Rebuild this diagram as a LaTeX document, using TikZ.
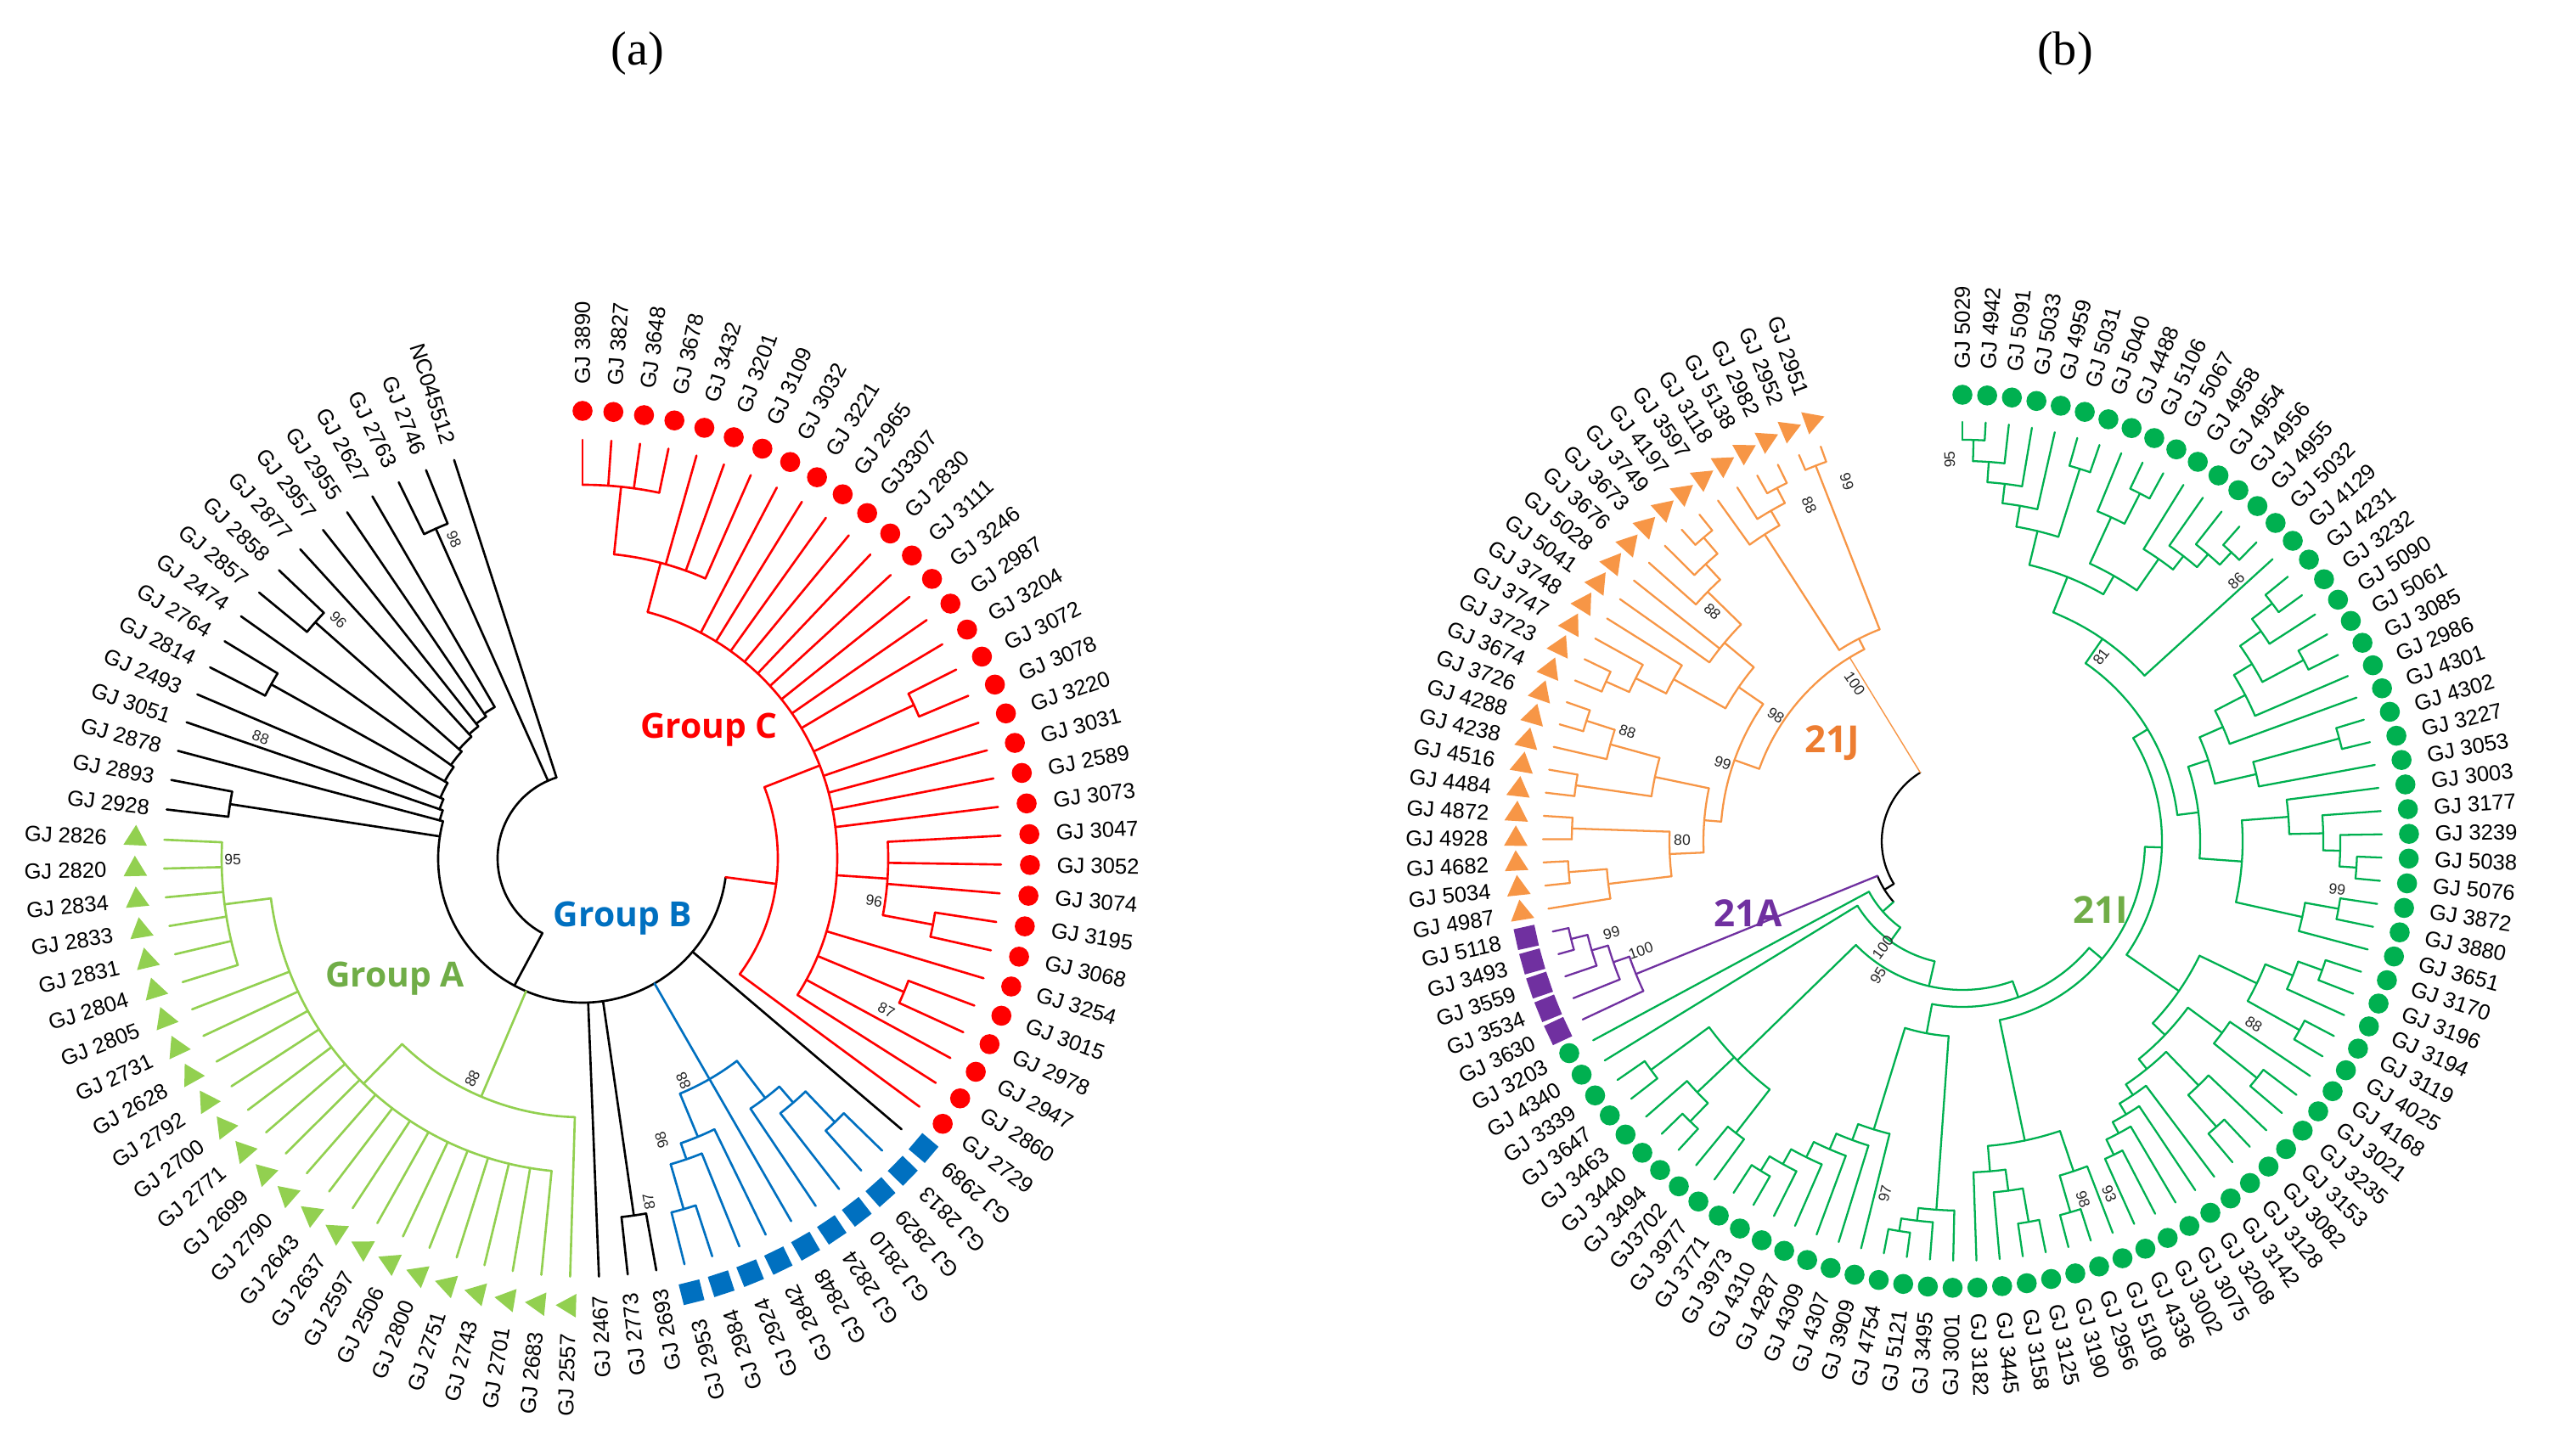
\documentclass[tikz,border=0pt]{standalone}
\usepackage{fontspec}
\setmainfont{Liberation Serif}
\newfontfamily\labfont{Liberation Sans}
\newfontfamily\grpfont{Open Sans}
\usetikzlibrary{shapes.geometric}
\definecolor{cRed}{HTML}{FF0000}
\definecolor{cBlue}{HTML}{0070C0}
\definecolor{cLG}{HTML}{92D050}
\definecolor{cLGt}{HTML}{70AD47}
\definecolor{cG}{HTML}{00B050}
\definecolor{cOr}{HTML}{F79646}
\definecolor{cOrt}{HTML}{ED7D31}
\definecolor{cPu}{HTML}{7030A0}
\tikzset{
  lbl/.style={font=\labfont\fontsize{7.3}{8}\selectfont,inner sep=0pt,text=black},
  bs/.style={font=\labfont\fontsize{5}{6}\selectfont,inner sep=0pt,text=black!85},
  grp/.style={font=\grpfont\bfseries\fontsize{11.6}{13}\selectfont,inner sep=0pt},
  grpb/.style={font=\grpfont\bfseries\fontsize{12.5}{14}\selectfont,inner sep=0pt}
}
\newcommand\Ar[3]{\draw ({ang(#2)}:#1) arc[start angle={ang(#2)},end angle={ang(#3)},radius=#1cm];}
\newcommand\St[3]{\draw ({ang(#1)}:#2) -- ({ang(#1)}:#3);}
\newcommand\Lf[2]{\draw ({ang(#1)}:#2) -- ({ang(#1)}:\tipr);}
\newcommand\Nd[5]{\Ar{#1}{#2}{#3}\St{#4}{#5}{#1}}
\newcommand\Pair[4]{\Ar{#1}{#2}{#3}\Lf{#2}{#1}\Lf{#3}{#1}\St{(#2+#3)/2}{#4}{#1}}
\newcommand\Circ[2]{\fill[#2] ({ang(#1)}:\mkr) circle[radius=0.118cm];}
\newcommand\Tri[2]{\pgfmathsetmacro\tA{ang(#1)}\node[regular polygon,regular polygon sides=3,fill=#2,draw=none,inner sep=0pt,minimum size=0.32cm,rotate=\tA-180] at (\tA:\mkr) {};}
\newcommand\Sq[2]{\pgfmathsetmacro\tA{ang(#1)}\node[fill=#2,draw=none,inner sep=0pt,minimum size=0.25cm,rotate=\tA] at (\tA:\mkr) {};}
\newcommand\LL[3]{\pgfmathsetmacro\tA{ang(#1)}\pgfmathtruncatemacro\flipQ{\tA<\thr}%
  \ifnum\flipQ=1 \node[lbl,anchor=east,rotate=\tA+180] at (\tA:#3) {#2};%
  \else \node[lbl,anchor=west,rotate=\tA] at (\tA:#3) {#2};\fi}
\newcommand\BS[3]{\pgfmathsetmacro\tA{ang(#1)}\pgfmathtruncatemacro\flipQ{\tA<\thr}%
  \ifnum\flipQ=1 \node[bs,rotate=\tA+180] at (\tA:#2) {#3};%
  \else \node[bs,rotate=\tA] at (\tA:#2) {#3};\fi}
\begin{document}
\begin{tikzpicture}
\useasboundingbox (0,0) rectangle (30.03,17.14);
\fill[white] (0,0) rectangle (30.03,17.14);
\node[font=\fontsize{16}{19}\selectfont] (ta) at (7.51,16.51) {(a)};
\node[font=\fontsize{16}{19}\selectfont] (tb) at (24.32,16.51) {(b)};

%================ TREE A =================
\begin{scope}[shift={(6.86,7.03)},declare function={ang(\i)=(\i<69.5)*(90-3.95*\i)+(\i>=69.5)*(-186.7-4.09*(\i-70));}]
\def\tipr{4.93}\def\mkr{5.27}\def\thr{-37.5}
\begin{scope}[line width=0.75pt,line cap=round]
 \begin{scope}[black]
  \Ar{1.00}{86}{52.7}
  \Lf{86}{1.00}
  \Pair{4.25}{84}{85}{1.00}
  \St{52.7}{1.00}{1.70}
  \Ar{1.70}{70.5}{24.7}
  \Ar{1.70}{70.5}{72}\St{72}{1.70}{1.74}
  \Ar{1.74}{72}{73}\St{73}{1.74}{1.78}
  \Ar{1.78}{73}{74}\St{74}{1.78}{1.82}
  \Ar{1.82}{74}{75.5}\St{75.5}{1.82}{1.86}
  \Ar{1.86}{75.5}{77}\St{77}{1.86}{1.90}
  \Ar{1.90}{77}{78.5}\St{78.5}{1.90}{1.94}
  \Ar{1.94}{78.5}{80}\St{80}{1.94}{1.98}
  \Ar{1.98}{80}{81}\St{81}{1.98}{2.02}
  \Ar{2.02}{81}{82}\St{82}{2.02}{2.06}
  \Ar{2.06}{82}{83}\St{83}{2.06}{2.10}
  \Pair{4.2}{70}{71}{1.70}
  \Lf{72}{1.74}\Lf{73}{1.78}\Lf{74}{1.82}
  \Pair{4.2}{75}{76}{1.86}
  \Lf{77}{1.90}
  \Pair{4.2}{78}{79}{1.94}
  \Lf{80}{1.98}\Lf{81}{2.02}\Lf{82}{2.06}\Lf{83}{2.10}
  \Lf{45}{1.70}
  \Pair{4.25}{43}{44}{1.70}
  \Lf{33}{1.70}
 \end{scope}
 \begin{scope}[cLG]
  \Nd{3.05}{56.75}{46}{51.4}{1.70}
  \Lf{46}{3.05}
  \Nd{3.70}{66.5}{47}{56.75}{3.05}
  \foreach \k in {47,...,63}{\Lf{\k}{3.70}}
  \Nd{4.25}{64}{69}{66.5}{3.70}
  \foreach \k in {64,...,69}{\Lf{\k}{4.25}}
 \end{scope}
 \begin{scope}[cBlue]
  \Nd{3.0}{39.875}{36.125}{38}{1.70}\Lf{38}{3.0}
  \Nd{3.55}{39}{40.75}{39.875}{3.0}\Lf{39}{3.55}
  \Nd{3.75}{40}{41.5}{40.75}{3.55}\Lf{40}{3.75}
  \Pair{4.3}{41}{42}{3.75}
  \Nd{3.55}{37}{35.25}{36.125}{3.0}\Lf{37}{3.55}
  \Nd{3.8}{36}{34.5}{35.25}{3.55}\Lf{36}{3.8}
  \Pair{4.3}{34}{35}{3.8}
 \end{scope}
 \begin{scope}[cRed]
  \Nd{2.30}{17.375}{32}{24.69}{1.70}\Lf{32}{2.30}
  \Nd{3.0}{3.75}{31}{17.375}{2.30}
  \Nd{3.6}{1.5}{6}{3.75}{3.0}\Lf{4}{3.6}\Lf{5}{3.6}\Lf{6}{3.6}
  \Nd{4.40}{0}{3}{1.5}{3.6}
  \foreach \k in {0,1,2,3}{\Lf{\k}{4.40}}
  \foreach \k in {7,8,9,10,11,12,13,14,15,18,19,20,21,27,30,31}{\Lf{\k}{3.0}}
  \Pair{4.3}{16}{17}{3.0}
  \Nd{3.6}{22}{25.5}{23.75}{3.0}\Lf{22}{3.6}\Lf{23}{3.6}\Lf{24}{3.6}
  \Pair{4.2}{25}{26}{3.6}
  \Pair{4.1}{28}{29}{3.0}
 \end{scope}
\end{scope}
% markers and labels
\foreach \i/\n in {0/GJ 3890,1/GJ 3827,2/GJ 3648,3/GJ 3678,4/GJ 3432,5/GJ 3201,6/GJ 3109,7/GJ 3032,8/GJ 3221,9/GJ 2965,10/GJ3307,11/GJ 2830,12/GJ 3111,13/GJ 3246,14/GJ 2987,15/GJ 3204,16/GJ 3072,17/GJ 3078,18/GJ 3220,19/GJ 3031,20/GJ 2589,21/GJ 3073,22/GJ 3047,23/GJ 3052,24/GJ 3074,25/GJ 3195,26/GJ 3068,27/GJ 3254,28/GJ 3015,29/GJ 2978,30/GJ 2947,31/GJ 2860,32/GJ 2729}{\Circ{\i}{cRed}\LL{\i}{\n}{5.58}}
\foreach \i/\n in {33/GJ 2989,34/GJ 2813,35/GJ 2829,36/GJ 2810,37/GJ 2824,38/GJ 2848,39/GJ 2842,40/GJ 2924,41/GJ 2984,42/GJ 2953}{\Sq{\i}{cBlue}\LL{\i}{\n}{5.6}}
\foreach \i/\n in {43/GJ 2693,44/GJ 2773,45/GJ 2467}{\LL{\i}{\n}{5.15}}
\foreach \i/\n in {46/GJ 2557,47/GJ 2683,48/GJ 2701,49/GJ 2743,50/GJ 2751,51/GJ 2800,52/GJ 2506,53/GJ 2597,54/GJ 2637,55/GJ 2643,56/GJ 2790,57/GJ 2699,58/GJ 2771,59/GJ 2700,60/GJ 2792,61/GJ 2628,62/GJ 2731,63/GJ 2805,64/GJ 2804,65/GJ 2831,66/GJ 2833,67/GJ 2834,68/GJ 2820,69/GJ 2826}{\Tri{\i}{cLG}\LL{\i}{\n}{5.6}}
\foreach \i/\n in {70/GJ 2928,71/GJ 2893,72/GJ 2878,73/GJ 3051,74/GJ 2493,75/GJ 2814,76/GJ 2764,77/GJ 2474,78/GJ 2857,79/GJ 2858,80/GJ 2877,81/GJ 2957,82/GJ 2955,83/GJ 2627,84/GJ 2763,85/GJ 2746,86/NC045512}{\LL{\i}{\n}{5.13}}
% bootstrap
\BS{85.0}{4.05}{98}\BS{79.2}{4.02}{96}\BS{73.4}{4.05}{88}\BS{68.3}{4.12}{95}
\BS{52.3}{2.9}{88}\BS{42.8}{4.12}{87}\BS{39.4}{2.88}{88}\BS{41.6}{3.45}{98}
\BS{24.9}{3.47}{96}\BS{29.5}{4.0}{87}
\end{scope}

\node[grp,text=cRed] (gC) at (8.35,8.54) {Group C};
\node[grp,text=cBlue] (gB) at (7.335,6.32) {Group B};
\node[grp,text=cLGt] (gA) at (4.65,5.61) {Group A};

%================ TREE B =================
\begin{scope}[shift={(23.11,7.23)},declare function={ang(\i)=90-3.18*\i;}]
\def\tipr{4.94}\def\mkr{5.26}\def\thr{-90}
\begin{scope}[line width=0.65pt,line cap=round]
 \begin{scope}[black]
  \Ar{0.95}{103.3}{74.9}\St{74.9}{0.95}{1.08}\Ar{1.08}{71.9}{77.95}
 \end{scope}
 \begin{scope}[cOr]
  \draw[line width=0.4pt] ({ang(103.3)}:0.95) -- ({ang(103.3)}:2.54);
  \Ar{2.54}{91.08}{104.7}
  \Nd{2.68}{102.9}{106.5}{104.7}{2.54}
  \Pair{4.75}{106}{107}{2.68}
  \Pair{4.7}{104}{105}{4.5}
  \Nd{4.5}{103}{104.5}{103.75}{4.3}\Lf{103}{4.5}
  \Nd{4.3}{102}{103.75}{102.9}{2.68}\Lf{102}{4.3}
  \Pair{4.7}{100}{101}{4.45}
  \Nd{4.45}{99}{100.5}{99.75}{4.2}\Lf{99}{4.45}
  \Nd{4.2}{98}{99.75}{98.875}{3.65}\Lf{98}{4.2}
  \Nd{3.65}{96}{98.875}{97.44}{3.2}\Lf{96}{3.65}\Lf{97}{3.65}
  \Pair{4.6}{92}{93}{4.3}
  \Nd{4.3}{92.5}{94}{93.25}{3.9}\Lf{94}{4.3}
  \Nd{3.9}{93.25}{95}{94.125}{3.2}\Lf{95}{3.9}
  \Nd{3.2}{94.125}{97.44}{95.78}{2.85}
  \Pair{4.65}{90}{91}{4.3}
  \Nd{4.3}{89}{90.5}{89.75}{3.7}\Lf{89}{4.3}
  \Pair{4.6}{87}{88}{3.7}
  \Nd{3.7}{87.5}{89.75}{88.625}{3.05}
  \Pair{4.65}{83}{84}{4.2}
  \Nd{4.2}{82}{83.5}{82.75}{3.45}\Lf{82}{4.2}
  \Pair{4.6}{85}{86}{3.45}
  \Nd{3.45}{82.75}{85.5}{84.125}{3.05}
  \Nd{3.05}{84.125}{88.625}{86.375}{2.85}
  \Nd{2.85}{86.375}{95.78}{91.08}{2.54}
 \end{scope}
 \begin{scope}[cPu]
  \Pair{4.75}{80}{81}{4.55}
  \Nd{4.55}{79}{80.5}{79.75}{4.35}\Lf{79}{4.55}
  \Nd{4.35}{78}{79.75}{78.9}{4.15}\Lf{78}{4.35}
  \Ar{4.15}{77}{78.9}\Lf{77}{4.15}
  \St{77.95}{1.08}{4.15}
 \end{scope}
 \begin{scope}[cG]
  % top cluster
  \Pair{4.73}{0}{1}{4.48}
  \Nd{4.48}{0.5}{2}{1.25}{4.24}\Lf{2}{4.48}
  \Nd{4.24}{1.25}{3}{2.125}{4.01}\Lf{3}{4.24}
  \Nd{4.01}{2.125}{4}{3.06}{3.76}\Lf{4}{4.01}
  \Pair{4.6}{5}{6}{3.76}
  \Nd{3.76}{3.06}{5.5}{4.28}{3.35}
  \Nd{4.2}{7}{8.5}{7.75}{3.6}\Lf{7}{4.2}
  \Pair{4.6}{8}{9}{4.2}
  \Pair{4.65}{13}{14}{4.45}
  \Nd{4.45}{12}{13.5}{12.75}{4.25}\Lf{12}{4.45}
  \Nd{4.25}{11}{12.75}{11.875}{4.05}\Lf{11}{4.25}
  \Nd{4.05}{10}{11.875}{10.94}{3.6}\Lf{10}{4.05}
  \Nd{3.6}{7.75}{10.94}{9.34}{3.35}
  \Nd{3.35}{4.28}{9.34}{6.81}{2.9}
  \Nd{2.9}{6.81}{15}{10.9}{2.55}\Lf{15}{2.9}
  % middle
  \Pair{4.6}{16}{17}{4.3}
  \Nd{4.3}{16.5}{18}{17.25}{4.0}\Lf{18}{4.3}
  \Pair{4.55}{19}{20}{4.0}
  \Nd{4.0}{17.25}{19.5}{18.4}{3.75}
  \Nd{3.75}{18.4}{21}{19.7}{3.35}\Lf{21}{3.75}
  \Nd{3.35}{19.7}{22}{20.85}{3.05}\Lf{22}{3.35}
  \Pair{4.6}{23}{24}{3.55}
  \Nd{3.55}{23.5}{25}{24.25}{3.05}\Lf{25}{3.55}
  \Nd{3.05}{20.85}{24.25}{22.55}{2.8}
  \Pair{4.65}{29}{30}{4.45}
  \Nd{4.45}{28}{29.5}{28.75}{4.25}\Lf{28}{4.45}
  \Nd{4.25}{27}{28.75}{27.9}{3.85}\Lf{27}{4.25}
  \Nd{3.85}{26}{27.9}{26.95}{3.3}\Lf{26}{3.85}
  \Pair{4.5}{31}{32}{4.1}
  \Nd{4.1}{31.5}{33}{32.25}{3.3}\Lf{33}{4.1}
  \Nd{3.3}{26.95}{32.25}{29.6}{2.8}
  \Nd{2.8}{22.55}{29.6}{26.1}{2.55}
  % G4
  \Pair{4.5}{34}{35}{4.2}
  \Nd{4.2}{34.5}{36}{35.25}{3.85}\Lf{36}{4.2}
  \Pair{4.55}{37}{38}{3.85}
  \Nd{3.85}{35.25}{37.5}{36.4}{3.1}
  \Pair{4.45}{40}{41}{3.8}
  \Nd{3.8}{39}{40.5}{39.75}{3.3}\Lf{39}{3.8}
  \Pair{4.5}{43}{44}{4.0}
  \Nd{4.0}{42}{43.5}{42.75}{3.45}\Lf{42}{4.0}
  \Pair{4.1}{48}{49}{3.9}
  \Nd{3.9}{47}{48.5}{47.75}{3.75}\Lf{47}{3.9}
  \Nd{3.75}{46}{47.75}{46.875}{3.6}\Lf{46}{3.75}
  \Nd{3.6}{45}{46.875}{45.94}{3.45}\Lf{45}{3.6}
  \Nd{3.45}{42.75}{45.94}{44.34}{3.3}
  \Nd{3.3}{39.75}{44.34}{42.05}{3.1}
  \Nd{3.1}{36.4}{42.05}{39.2}{2.35}
  % G5
  \Pair{4.55}{51}{52}{4.1}
  \Nd{4.1}{50}{51.5}{50.75}{3.6}\Lf{50}{4.1}
  \Pair{4.55}{53}{54}{4.15}
  \Nd{4.15}{53.5}{55}{54.25}{3.9}\Lf{55}{4.15}
  \Nd{3.9}{54.25}{56}{55.1}{3.6}\Lf{56}{3.9}
  \Nd{3.6}{50.75}{55.1}{52.9}{2.15}
  % backbone
  \Nd{2.55}{10.9}{26.1}{18.5}{2.35}
  \Nd{2.35}{18.5}{39.2}{28.85}{2.15}
  \Nd{2.15}{28.85}{52.9}{40.9}{1.95}
  % G97 and G6
  \Pair{4.55}{66}{67}{4.35}
  \Nd{4.35}{65}{66.5}{65.75}{4.15}\Lf{65}{4.35}
  \Nd{4.15}{64}{65.75}{64.875}{3.95}\Lf{64}{4.15}
  \Nd{3.95}{63}{64.875}{63.94}{3.75}\Lf{63}{3.95}
  \Nd{3.75}{62}{63.94}{62.97}{3.55}\Lf{62}{3.75}
  \Nd{3.55}{61}{62.97}{61.98}{2.3}\Lf{61}{3.55}
  \Pair{4.65}{59}{60}{4.5}
  \Nd{4.5}{58}{59.5}{58.75}{4.35}\Lf{58}{4.5}
  \Nd{4.35}{57}{58.75}{57.875}{2.3}\Lf{57}{4.35}
  \Nd{2.3}{57.875}{61.98}{59.93}{1.95}
  \Nd{1.95}{40.9}{59.93}{50.4}{1.75}
  % L1
  \Pair{4.55}{73}{74}{3.7}
  \Pair{4.6}{70}{71}{4.3}
  \Nd{4.3}{70.5}{72}{71.25}{3.7}\Lf{72}{4.3}
  \Pair{4.35}{68}{69}{3.7}
  \Nd{3.7}{68.5}{73.5}{71}{1.75}
  \Nd{1.75}{50.4}{71}{60.7}{1.45}
  \Nd{1.45}{60.7}{75}{67.85}{1.25}\Lf{75}{1.45}
  \Nd{1.25}{67.85}{76}{71.9}{1.08}\Lf{76}{1.25}
 \end{scope}
\end{scope}
\foreach \i/\n in {0/GJ 5029,1/GJ 4942,2/GJ 5091,3/GJ 5033,4/GJ 4959,5/GJ 5031,6/GJ 5040,7/GJ 4488,8/GJ 5106,9/GJ 5067,10/GJ 4958,11/GJ 4954,12/GJ 4956,13/GJ 4955,14/GJ 5032,15/GJ 4129,16/GJ 4231,17/GJ 3232,18/GJ 5090,19/GJ 5061,20/GJ 3085,21/GJ 2986,22/GJ 4301,23/GJ 4302,24/GJ 3227,25/GJ 3053,26/GJ 3003,27/GJ 3177,28/GJ 3239,29/GJ 5038,30/GJ 5076,31/GJ 3872,32/GJ 3880,33/GJ 3651,34/GJ 3170,35/GJ 3196,36/GJ 3194,37/GJ 3119,38/GJ 4025,39/GJ 4168,40/GJ 3021,41/GJ 3235,42/GJ 3153,43/GJ 3082,44/GJ 3128,45/GJ 3142,46/GJ 3208,47/GJ 3075,48/GJ 3002,49/GJ 4336,50/GJ 5108,51/GJ 2956,52/GJ 3190,53/GJ 3125,54/GJ 3158,55/GJ 3445,56/GJ 3182,57/GJ 3001,58/GJ 3495,59/GJ 5121,60/GJ 4754,61/GJ 3909,62/GJ 4307,63/GJ 4309,64/GJ 4287,65/GJ 4310,66/GJ 3973,67/GJ 3771,68/GJ 3977,69/GJ3702,70/GJ 3494,71/GJ 3440,72/GJ 3463,73/GJ 3647,74/GJ 3339,75/GJ 4340,76/GJ 3203}{\Circ{\i}{cG}\LL{\i}{\n}{5.56}}
\foreach \i/\n in {77/GJ 3630,78/GJ 3534,79/GJ 3559,80/GJ 3493,81/GJ 5118}{\Sq{\i}{cPu}\LL{\i}{\n}{5.56}}
\foreach \i/\n in {82/GJ 4987,83/GJ 5034,84/GJ 4682,85/GJ 4928,86/GJ 4872,87/GJ 4484,88/GJ 4516,89/GJ 4238,90/GJ 4288,91/GJ 3726,92/GJ 3674,93/GJ 3723,94/GJ 3747,95/GJ 3748,96/GJ 5041,97/GJ 5028,98/GJ 3676,99/GJ 3673,100/GJ 3749,101/GJ 4197,102/GJ 3597,103/GJ 3118,104/GJ 5138,105/GJ 2982,106/GJ 2952,107/GJ 2951}{\Tri{\i}{cOr}\LL{\i}{\n}{5.58}}
% bootstrap
\BS{102.4}{2.25}{100}\BS{107.6}{4.45}{99}\BS{105.5}{4.35}{88}\BS{95.6}{2.65}{98}
\BS{90.6}{2.97}{99}\BS{98.3}{4.0}{88}\BS{90.6}{4.15}{88}\BS{85.0}{3.3}{80}
\BS{79.0}{4.0}{100}\BS{80.3}{4.27}{99}
\BS{-0.6}{4.5}{95}\BS{11.6}{2.72}{81}\BS{14.6}{4.45}{86}\BS{30.6}{4.45}{99}
\BS{38.4}{4.05}{88}\BS{50.75}{4.45}{98}\BS{49.5}{4.5}{93}\BS{60.5}{4.25}{97}
\BS{68.2}{1.56}{100}\BS{66.7}{1.87}{95}
\end{scope}

\node[grpb,text=cOrt] (gJ) at (21.58,8.39) {21J};
\node[grpb,text=cPu] (gAA) at (20.59,6.38) {21A};
\node[grpb,text=cLGt] (gI) at (24.74,6.42) {21I};
\end{tikzpicture}
\end{document}
